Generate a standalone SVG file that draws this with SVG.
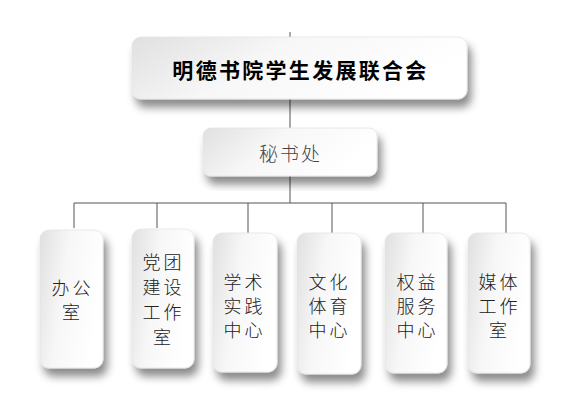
<svg xmlns="http://www.w3.org/2000/svg" width="574" height="408" viewBox="0 0 574 408">
<defs>
<linearGradient id="g" x1="0" y1="0" x2="1" y2="0.3">
<stop offset="0" stop-color="#e0e0e0"/>
<stop offset="0.45" stop-color="#f7f7f7"/>
<stop offset="1" stop-color="#ffffff"/>
</linearGradient>
<filter id="sh" x="-20%" y="-20%" width="150%" height="150%">
<feDropShadow dx="4" dy="8" stdDeviation="4.5" flood-color="#000" flood-opacity="0.45"/>
</filter>
<style>
.box{fill:url(#g);stroke:#e4e4e4;stroke-width:0.8;filter:url(#sh)}
.ln{stroke:#555;stroke-width:1;fill:none}
.t{font-family:"Noto Sans CJK SC","Noto Sans CJK TC",sans-serif;font-size:18px;fill:#222;text-anchor:middle;letter-spacing:3px;font-weight:300}
</style>
</defs>
<rect width="574" height="408" fill="#fff"/>
<g id="connectors">
<path class="ln" d="M290 32V37M290 99V128M290 176V203M74 203H506M74 203V228M157 203V228M248 203V233M332 203V233M423 203V233M506 203V233"/>
</g>
<g id="n0">
<rect class="box" x="132" y="37" width="335" height="62" rx="9"/>
<text x="300.5" y="78" style="font-family:'Noto Sans CJK SC',sans-serif;font-size:21px;font-weight:bold;fill:#000;text-anchor:middle;letter-spacing:2.3px">明德书院学生发展联合会</text>
</g>
<g id="n1">
<rect class="box" x="203" y="128" width="174" height="48" rx="8"/>
<text x="290.5" y="161" class="t" style="font-size:19px;letter-spacing:2px;fill:#444">秘书处</text>
</g>
<g id="n2">
<rect class="box" x="40" y="230" width="63" height="138" rx="9"/>
<text class="t"><tspan x="72.5" y="295">办公</tspan><tspan x="72.5" y="319">室</tspan></text>
</g>
<g id="n3">
<rect class="box" x="132" y="229" width="62" height="139" rx="9"/>
<text class="t"><tspan x="163.5" y="269">党团</tspan><tspan x="163.5" y="294">建设</tspan><tspan x="163.5" y="319">工作</tspan><tspan x="163.5" y="344">室</tspan></text>
</g>
<g id="n4">
<rect class="box" x="213" y="233" width="64" height="139" rx="9"/>
<text class="t"><tspan x="244.5" y="289">学术</tspan><tspan x="244.5" y="313">实践</tspan><tspan x="244.5" y="337">中心</tspan></text>
</g>
<g id="n5">
<rect class="box" x="297" y="233" width="64" height="141" rx="9"/>
<text class="t"><tspan x="329.5" y="289">文化</tspan><tspan x="329.5" y="313">体育</tspan><tspan x="329.5" y="337">中心</tspan></text>
</g>
<g id="n6">
<rect class="box" x="385" y="233" width="62" height="140" rx="9"/>
<text class="t"><tspan x="417.5" y="289">权益</tspan><tspan x="417.5" y="313">服务</tspan><tspan x="417.5" y="337">中心</tspan></text>
</g>
<g id="n7">
<rect class="box" x="468" y="233" width="62" height="140" rx="9"/>
<text class="t"><tspan x="499.5" y="289">媒体</tspan><tspan x="499.5" y="313">工作</tspan><tspan x="499.5" y="337">室</tspan></text>
</g>
</svg>
